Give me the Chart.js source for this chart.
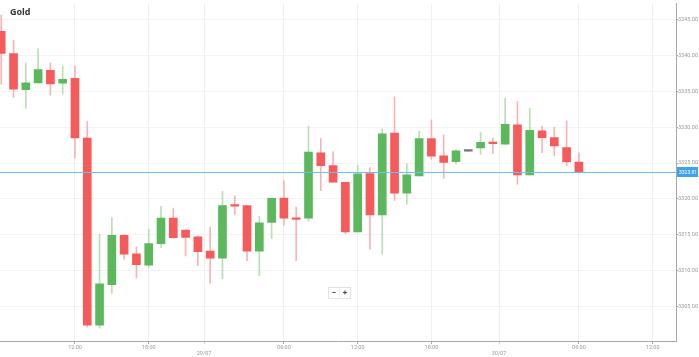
<!DOCTYPE html>
<html>
<head>
<meta charset="utf-8">
<script src="https://cdn.jsdelivr.net/npm/chart.js@4/dist/chart.umd.min.js"></script>
<style>
  html, body { margin: 0; padding: 0; background: #fff; }
  #wrap { position: relative; width: 699px; height: 357px; }
  #title { position: absolute; left: 10px; top: 5px; font: bold 9px "Open Sans", Roboto, sans-serif; color: #333; }
  #zoombtns { position: absolute; left: 328px; top: 287px; height: 10px; border: 1px solid #e2e2e2; background: #fff;
              font: bold 8px Roboto, sans-serif; color: #444; display: flex; }
  #zoombtns span { display: block; width: 10px; text-align: center; line-height: 10px; }
  #zoombtns span + span { border-left: 1px solid #eee; }
</style>
</head>
<body>
<div id="wrap">
  <canvas id="c" width="699" height="357"></canvas>
  <div id="title">Gold</div>
  <div id="zoombtns"><span>−</span><span>+</span></div>
</div>
<script>
// Hourly candles, oldest first
const opens  = [3343.37,3340.28,3335.22,3336.19,3337.93,3336.13,3336.82,3328.49,3302.39,3308.05,
                3314.92,3312.33,3310.77,3313.76,3317.31,3315.65,3314.72,3312.71,3311.74,3319.10,
                3319.06,3312.71,3316.71,3320.11,3317.35,3317.31,3326.42,3324.63,3322.32,3315.41,
                3323.52,3317.76,3329.19,3320.80,3323.20,3328.40,3326.01,3325.18,3326.66,3327.11,
                3327.90,3327.62,3330.33,3323.34,3329.50,3328.54,3327.15,3325.14];
const highs  = [3345.62,3342.13,3338.99,3340.93,3338.99,3338.54,3338.54,3330.80,3315.06,3317.35,
                3315.00,3313.30,3315.75,3318.96,3318.65,3315.70,3314.80,3316.06,3321.04,3320.44,
                3319.10,3317.58,3320.20,3322.56,3318.87,3330.15,3328.40,3326.56,3322.32,3324.72,
                3324.35,3329.78,3334.25,3324.94,3329.42,3331.02,3328.95,3326.88,3326.66,3329.32,
                3328.49,3334.02,3333.56,3332.64,3330.15,3329.97,3330.88,3326.42];
const lows   = [3335.99,3334.16,3332.64,3336.19,3334.48,3334.61,3325.73,3302.11,3301.98,3306.85,
                3311.60,3308.98,3310.36,3313.20,3314.50,3312.06,3310.68,3308.23,3308.84,3317.82,
                3311.37,3309.30,3314.45,3316.34,3311.37,3316.89,3321.13,3322.30,3315.14,3315.41,
                3312.98,3312.29,3319.79,3319.28,3323.20,3325.50,3322.87,3324.94,3326.66,3326.19,
                3326.33,3327.60,3322.04,3323.30,3326.46,3326.01,3324.63,3323.56];
const closes = [3340.28,3335.30,3336.19,3338.02,3336.05,3336.69,3328.49,3302.39,3308.15,3314.92,
                3312.29,3310.81,3313.76,3317.31,3314.59,3314.64,3312.65,3311.74,3319.06,3319.00,
                3312.71,3316.66,3320.07,3317.31,3317.15,3326.52,3324.63,3322.32,3315.41,3323.48,
                3317.76,3329.09,3320.80,3323.34,3328.40,3325.97,3325.08,3326.70,3326.66,3327.90,
                3327.71,3330.39,3323.34,3329.56,3328.54,3327.39,3325.14,3323.81];
// x-axis tick positions (in candle index units) and labels
const xTickPos    = [6, 12, 16.5, 23, 29, 35, 40.5, 47, 53];
const xTickLabels = ['12:00', '18:00', '29/07', '06:00', '12:00', '18:00', '30/07', '06:00', '12:00'];
const dateTicks   = ['29/07', '30/07'];
const yTicks      = [3305, 3310, 3315, 3320, 3325, 3330, 3335, 3340, 3345];
const lastPrice   = closes[closes.length - 1];

const UP = '#5cb85c', DOWN = '#f65b5b', FLAT = '#777777';
const UP_W = '#b9dfb5', DOWN_W = '#f9b3b3', FLAT_W = '#999999';

function dir(i) { return closes[i] > opens[i] ? 1 : (closes[i] < opens[i] ? -1 : 0); }

const bodies = opens.map((o, i) => ({ x: i, y: [Math.min(o, closes[i]), Math.max(o, closes[i])] }));
const wicks  = opens.map((o, i) => ({ x: i, y: [lows[i], highs[i]] }));

const fontFam = 'Roboto, "Open Sans", sans-serif';

const pricePlugin = {
  id: 'priceLine',
  afterDatasetsDraw(chart) {
    const { ctx, chartArea } = chart;
    const ys = chart.scales.y;
    const y = Math.round(ys.getPixelForValue(lastPrice)) + 0.5;
    ctx.save();
    ctx.strokeStyle = '#6fbdf3';
    ctx.lineWidth = 1;
    ctx.beginPath();
    ctx.moveTo(chartArea.left, y);
    ctx.lineTo(chartArea.right, y);
    ctx.stroke();
    ctx.restore();
  },
  afterDraw(chart) {
    const { ctx, chartArea } = chart;
    const ys = chart.scales.y;
    const y = Math.round(ys.getPixelForValue(lastPrice));
    ctx.save();
    ctx.fillStyle = '#3fa3ec';
    ctx.fillRect(chartArea.right + 1, y - 5, 21, 10);
    ctx.fillStyle = '#ffffff';
    ctx.font = '5px ' + fontFam;
    ctx.textBaseline = 'middle';
    ctx.textAlign = 'left';
    ctx.fillText(lastPrice.toFixed(2), chartArea.right + 3, y + 0.5);
    ctx.restore();
  }
};

new Chart(document.getElementById('c'), {
  type: 'bar',
  data: {
    datasets: [
      {
        label: 'body',
        data: bodies,
        grouped: false,
        barThickness: 8,
        minBarLength: 1.5,
        borderWidth: 0,
        backgroundColor: ctx => { const d = dir(ctx.dataIndex); return d > 0 ? UP : d < 0 ? DOWN : FLAT; },
        order: 0
      },
      {
        label: 'wick',
        data: wicks,
        grouped: false,
        barThickness: 1,
        minBarLength: 1,
        borderWidth: 0,
        backgroundColor: ctx => { const d = dir(ctx.dataIndex); return d > 0 ? UP_W : d < 0 ? DOWN_W : FLAT_W; },
        order: 1
      }
    ]
  },
  options: {
    responsive: false,
    devicePixelRatio: 1,
    animation: false,
    layout: { padding: 0 },
    plugins: { legend: { display: false }, tooltip: { enabled: false }, title: { display: false } },
    scales: {
      x: {
        type: 'linear',
        min: -0.1,
        max: 54.9,
        offset: false,
        afterBuildTicks: s => { s.ticks = xTickPos.map(v => ({ value: v })); },
        afterFit: s => { s.height = 16; },
        ticks: {
          autoSkip: false,
          maxRotation: 0,
          padding: 0,
          color: '#999',
          font: { family: fontFam, size: 5.5 },
          callback: (v, i) => dateTicks.includes(xTickLabels[i]) ? ['', xTickLabels[i]] : xTickLabels[i]
        },
        grid: {
          offset: false,
          color: '#efefef',
          tickColor: (c) => dateTicks.includes(xTickLabels[c.index]) ? '#cfcfcf' : '#aaa',
          tickLength: 3,
          drawTicks: true
        },
        border: { display: true, color: '#a8a8a8', width: 1 }
      },
      y: {
        position: 'right',
        min: 3300.18,
        max: 3347.28,
        afterBuildTicks: s => { s.ticks = yTicks.map(v => ({ value: v })); },
        afterFit: s => { s.width = 23; },
        ticks: {
          padding: 0,
          color: '#999',
          font: { family: fontFam, size: 5.5 },
          callback: v => Number(v).toFixed(2)
        },
        grid: { offset: false, color: '#f3f3f3', tickColor: '#aaa', tickLength: 2 },
        border: { display: true, color: '#a8a8a8', width: 1 }
      }
    }
  },
  plugins: [pricePlugin]
});
</script>
</body>
</html>
